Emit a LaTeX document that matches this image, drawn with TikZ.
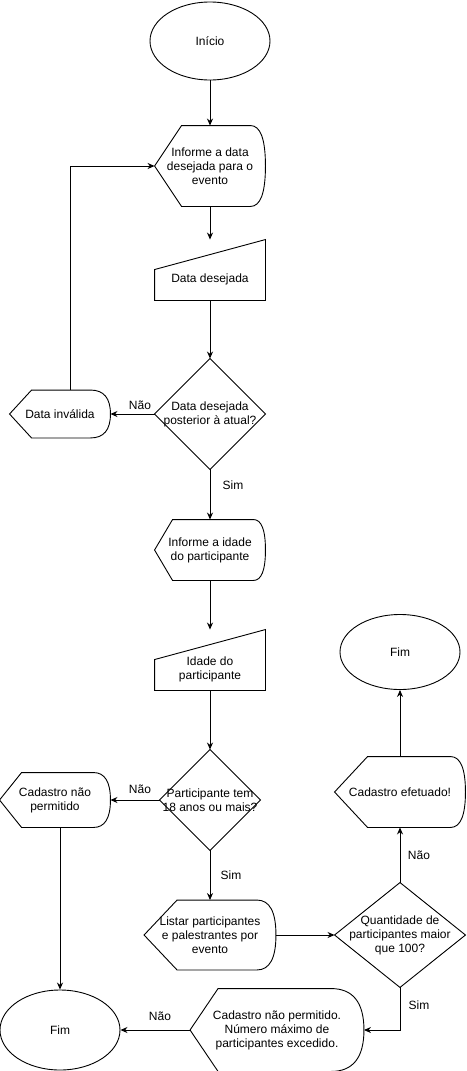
\documentclass[tikz,border=0pt]{standalone}
\usepackage{fontspec}
\setmainfont{Liberation Sans}
\usepackage{tikz}
\usetikzlibrary{shapes.geometric}
\usetikzlibrary{arrows.meta}
\usetikzlibrary{calc}

\tikzset{
  box/.style={inner sep=0pt, align=center},
  terminal/.style={ellipse, draw, inner sep=0pt, minimum width=120, minimum height=78},
  seta/.style={-{Stealth[length=7pt,width=6pt]}},
  rotulo/.style={inner sep=0pt},
}
% display shape drawn over a plain node
\newcommand\dispshape[3]{%
  \draw (#1.west) -- ([xshift=#2pt]#1.north west) -- ([xshift=-#3pt]#1.north east)
    .. controls ([xshift=-#3pt/3]#1.north east) and ($(#1.east)!0.667!(#1.north east)$) .. (#1.east)
    .. controls ($(#1.east)!0.667!(#1.south east)$) and ([xshift=-#3pt/3]#1.south east) .. ([xshift=-#3pt]#1.south east)
    -- ([xshift=#2pt]#1.south west) -- cycle;}
\newcommand\entrada[2]{%
  \draw (#1.south west) -- ([yshift=-#2pt]#1.north west) -- (#1.north east) -- (#1.south east) -- cycle;}
\newcommand\losango[1]{%
  \draw (#1.north) -- (#1.east) -- (#1.south) -- (#1.west) -- cycle;}

\begin{document}
\begin{tikzpicture}[x=1pt,y=-1pt,line width=0.9pt,font=\fontsize{12}{14}\selectfont]
        \useasboundingbox (0,0) rectangle (466,1071);

        \node[terminal] (inicio) at (210,41) {Início};

        \node[box,minimum width=110,minimum height=80] (infdata) at (210,166) {Informe a data\\desejada para o\\evento};
        \dispshape{infdata}{27}{15}

        \node[box,minimum width=110,minimum height=60,
              label={[align=center,yshift=-9pt]center:Data desejada}] (data) at (210,270) {};
        \entrada{data}{30}

        \node[box,minimum width=110,minimum height=110] (dec1) at (210,414) {Data desejada\\posterior à atual?};
        \losango{dec1}

        \node[box,minimum width=100,minimum height=47] (invalida) at (60,414) {Data inválida};
        \dispshape{invalida}{22}{20}

        \node[box,minimum width=110,minimum height=60] (infidade) at (210,550) {Informe a idade\\do participante};
        \dispshape{infidade}{18}{12}

        \node[box,minimum width=110,minimum height=60,
              label={[align=center,yshift=-9pt]center:Idade do\\participante}] (idade) at (210,660) {};
        \entrada{idade}{30}

        \node[box,minimum width=100,minimum height=100] (dec2) at (210,800) {Participante tem\\18 anos ou mais?};
        \losango{dec2}

        \node[box,minimum width=110,minimum height=54] (naoperm) at (55,800) {Cadastro não\\permitido};
        \dispshape{naoperm}{22}{17}

        \node[terminal,minimum height=80] (fimesq) at (60,1030) {Fim};

        \node[box,minimum width=131,minimum height=69] (listar) at (210,935) {Listar participantes\\e palestrantes por\\evento};
        \dispshape{listar}{33}{19}

        \node[box,minimum width=130,minimum height=104] (dec3) at (400,935) {Quantidade de\\participantes maior\\que 100?};
        \losango{dec3}

        \node[box,minimum width=130,minimum height=70] (efetuado) at (400,792) {Cadastro efetuado!};
        \dispshape{efetuado}{33}{15}

        \node[terminal,minimum height=75] (fimdir) at (400,652) {Fim};

        \node[box,minimum width=173,minimum height=82] (excedido) at (277,1030) {Cadastro não permitido.\\Número máximo de\\participantes excedido.};
        \dispshape{excedido}{28}{33}

        \draw[seta] (inicio.south) -- (infdata.north);
        \draw[seta] (infdata.south) -- (data.north);
        \draw[seta] (data.south) -- (dec1.north);
        \draw[seta] (dec1.west) -- (invalida.east);
        \draw[seta] ([xshift=10pt]invalida.north) |- (infdata.west);
        \draw[seta] (dec1.south) -- (infidade.north);
        \draw[seta] (infidade.south) -- (idade.north);
        \draw[seta] (idade.south) -- (dec2.north);
        \draw[seta] (dec2.west) -- (naoperm.east);
        \draw[seta] (fimesq.north |- naoperm.south) -- (fimesq.north);
        \draw[seta] (dec2.south) -- (listar.north);
        \draw[seta] (listar.east) -- (dec3.west);
        \draw[seta] (dec3.north) -- (efetuado.south);
        \draw[seta] (efetuado.north) -- (fimdir.south);
        \draw[seta] (dec3.south) |- (excedido.east);
        \draw[seta] (excedido.west) -- (fimesq.east);

        \node[rotulo] (nao1) at (140,405) {Não};
        \node[rotulo] (sim1) at (233,485) {Sim};
        \node[rotulo] (nao2) at (140,789) {Não};
        \node[rotulo] (sim2) at (231,875) {Sim};
        \node[rotulo] (nao3) at (419,855) {Não};
        \node[rotulo] (sim3) at (419,1005) {Sim};
        \node[rotulo] (nao4) at (160,1016) {Não};
    \end{tikzpicture}
\end{document}
